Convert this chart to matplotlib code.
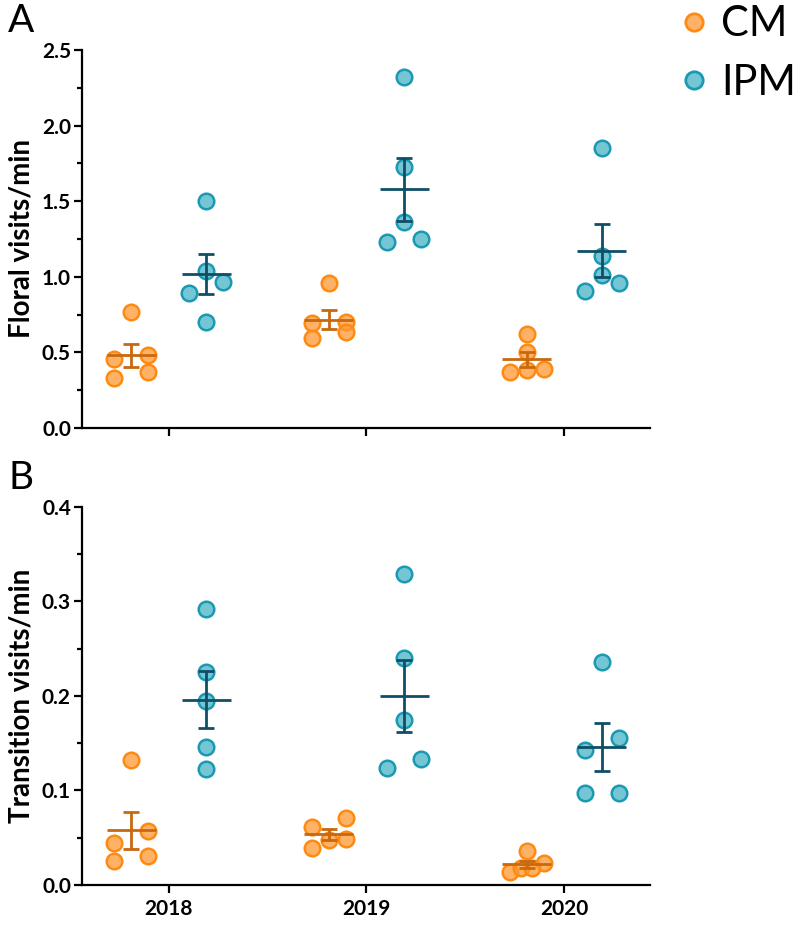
import numpy as np
import matplotlib
matplotlib.use("Agg")
import matplotlib.pyplot as plt
from matplotlib.lines import Line2D
from matplotlib.ticker import MultipleLocator, FormatStrFormatter

plt.rcParams['font.family'] = ['Lato', 'DejaVu Sans']

years = ['2018', '2019', '2020']
groups = ['CM', 'IPM']

# Panel A: floral visits/min
floral_cm = [
    [0.769, 0.454, 0.483, 0.372, 0.333],
    [0.957, 0.703, 0.692, 0.633, 0.593],
    [0.622, 0.505, 0.368, 0.390, 0.384],
]
floral_ipm = [
    [1.503, 0.963, 1.040, 0.891, 0.703],
    [2.319, 1.724, 1.365, 1.232, 1.248],
    [1.850, 1.138, 1.012, 0.961, 0.908],
]

# Panel B: transition visits/min
trans_cm = [
    [0.132, 0.057, 0.044, 0.031, 0.025],
    [0.0705, 0.0613, 0.0472, 0.0483, 0.0395],
    [0.036, 0.0236, 0.0134, 0.0176, 0.0176],
]
trans_ipm = [
    [0.292, 0.225, 0.1945, 0.146, 0.123],
    [0.329, 0.240, 0.174, 0.124, 0.133],
    [0.2354, 0.1558, 0.1427, 0.0976, 0.0976],
]

face = {'CM': (1.0, 0.60, 0.20, 0.75), 'IPM': (0.227, 0.686, 0.769, 0.70)}
edge = {'CM': '#FF8A12', 'IPM': '#1A9AB2'}
meanc = {'CM': '#C8680F', 'IPM': '#0F4E66'}

fig = plt.figure(figsize=(8, 9.48), dpi=100)
axA = fig.add_axes([0.1025, 0.5485, 0.71, 0.3988])
axB = fig.add_axes([0.1025, 0.0665, 0.71, 0.399])

MS = 11.2
MEW = 1.8
ROW_PX = 14.0   # values closer than this (in pixels) share a row
STEP_PX = 17.0  # horizontal half-spread of a row
GOFF = 0.19
HALF_MEAN = 0.124


def swarm(ax, xc, vals):
    """Row-based scatter layout (GraphPad-like)."""
    vals = np.asarray(vals, float)
    ypx = ax.transData.transform(np.column_stack([np.full(len(vals), xc), vals]))[:, 1]
    pxu = ax.transData.transform([[1, 0]])[0, 0] - ax.transData.transform([[0, 0]])[0, 0]
    order = list(np.argsort(vals, kind='stable'))
    offs = np.zeros(len(vals))
    while order:
        start = ypx[order[0]]
        row = [i for i in order if ypx[i] - start < ROW_PX]
        n = len(row)
        for j, i in enumerate(row):
            dx = 0.0 if n == 1 else STEP_PX * (2.0 * j / (n - 1) - 1.0)
            offs[i] = dx / pxu
        order = [i for i in order if i not in row]
    return xc + offs


def panel(ax, cm, ipm, ylim, major, minor, ylabel):
    ax.set_xlim(-0.44, 2.435)
    ax.set_ylim(*ylim)
    for g, data in [('CM', cm), ('IPM', ipm)]:
        for yi, vals in enumerate(data):
            xc = yi + (-GOFF if g == 'CM' else GOFF)
            xs = swarm(ax, xc, vals)
            ax.plot(xs, vals, 'o', ms=MS, mfc=face[g], mec=edge[g], mew=MEW,
                    ls='none', zorder=3, clip_on=False)
            v = np.asarray(vals)
            m = v.mean()
            sem = v.std(ddof=1) / np.sqrt(len(v))
            ax.hlines(m, xc - HALF_MEAN, xc + HALF_MEAN, color=meanc[g], lw=2.0, zorder=4)
            ax.errorbar([xc], [m], yerr=[sem], fmt='none', ecolor=meanc[g],
                        elinewidth=2.0, capsize=5.5, capthick=2.0, zorder=4)
    ax.set_xticks(range(len(years)))
    ax.set_xticklabels(years)
    ax.yaxis.set_major_locator(MultipleLocator(major))
    ax.yaxis.set_minor_locator(MultipleLocator(minor))
    ax.yaxis.set_major_formatter(FormatStrFormatter('%.1f'))
    for s in ['top', 'right']:
        ax.spines[s].set_visible(False)
    for s in ['left', 'bottom']:
        ax.spines[s].set_linewidth(1.6)
    ax.tick_params(axis='both', which='major', length=6, width=1.6, labelsize=15, pad=2)
    ax.tick_params(axis='x', which='major', pad=4)
    ax.tick_params(axis='y', which='minor', length=3.5, width=1.6)
    ax.tick_params(axis='x', which='minor', length=0)
    for lab in ax.get_xticklabels() + ax.get_yticklabels():
        lab.set_fontweight('bold')
    ax.set_ylabel(ylabel, fontsize=20, fontweight='bold')


panel(axA, floral_cm, floral_ipm, (0, 2.5), 0.5, 0.25, 'Floral visits/min')
panel(axB, trans_cm, trans_ipm, (0, 0.4), 0.1, 0.05, 'Transition visits/min')
axA.tick_params(axis='x', labelbottom=False)
axA.yaxis.set_label_coords(-0.083, 0.5)
axB.yaxis.set_label_coords(-0.083, 0.5)

fig.text(0.010, 0.997, 'A', fontsize=28, va='top', ha='left')
fig.text(0.010, 0.515, 'B', fontsize=28, va='top', ha='left')

handles = [Line2D([], [], marker='o', ls='none', ms=12.5, mfc=face[g], mec=edge[g], mew=2.0)
           for g in groups]
fig.legend(handles, groups, loc='upper right', bbox_to_anchor=(1.0, 0.999), frameon=False,
           fontsize=30, handletextpad=0.15, labelspacing=0.5, handlelength=1.0,
           borderaxespad=0.0, borderpad=0.1)

fig.savefig('out.png', dpi=100)
